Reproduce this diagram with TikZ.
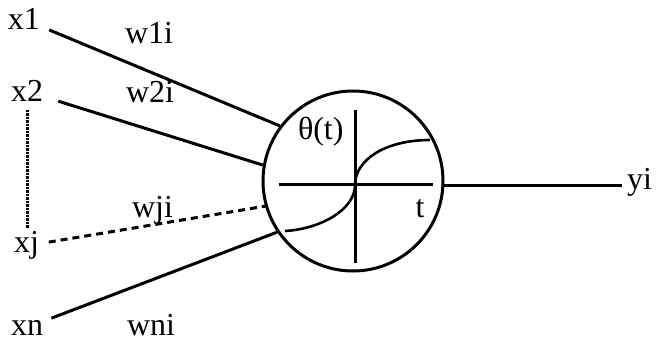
\documentclass[tikz,border=0pt]{standalone}
\usepackage{fontspec}
\setmainfont{Liberation Serif}
\begin{document}
\begin{tikzpicture}[x=1pt,y=1pt,
    wire/.style={line width=3pt},
    lbl/.style={font=\fontsize{32}{35}\selectfont,inner sep=0pt,outer sep=0pt,anchor=base west}]

  % Explicit bounding box, same proportions as the original figure.
  \useasboundingbox (0,0) rectangle (656,343);

  % ---------------- Neuron ----------------
  \node[draw,circle,line width=3pt,minimum size=180pt,inner sep=0pt] (neuron) at (353,162) {};

  % transfer function inside the neuron
  \begin{scope}[shift={(355,158)}]
    \draw[wire] (-76,0) -- (78,0);
    \draw[wire] (0,-78) -- (0,75);
    \draw[line width=2.6pt] (-70,-46) .. controls (-35,-44) and (0,-25) .. (0,0)
      .. controls (0,25) and (30,45) .. (75,45);
  \end{scope}
  \node[lbl] (theta) at (298,203) {θ(t)};
  \node[lbl,anchor=base] (targ) at (420,125) {t};

  % ---------------- Inputs ----------------
  \node[lbl] (x1) at (8,313) {x1};
  \node[lbl] (x2) at (11,241) {x2};
  \node[lbl] (xj) at (14,90) {xj};
  \node[lbl] (xn) at (11,8) {xn};

  \draw[wire,shorten <=10pt] (x1) -- (neuron.143);
  \draw[wire,shorten <=16pt] (x2) -- (neuron.170);
  \draw[wire,dash pattern=on 7pt off 5pt,shorten <=10pt] (xj) -- (neuron.196);
  \draw[wire,shorten <=9pt] (xn) -- (neuron.214);

  % x2 ... xj
  \draw[line width=3pt,dash pattern=on 2.5pt off 1pt,shorten <=8pt,shorten >=4pt]
    (x2.south) -- (x2.south |- xj.north);

  % weights
  \node[lbl] (w1i) at (125,299) {w1i};
  \node[lbl] (w2i) at (126,240) {w2i};
  \node[lbl] (wji) at (132,125) {wji};
  \node[lbl] (wni) at (127,8) {wni};

  % ---------------- Output ----------------
  \node[lbl] (yi) at (627,153) {yi};
  \draw[wire,shorten >=5pt] (neuron.-3) -- (neuron.-3 -| yi.west);

\end{tikzpicture}
\end{document}
